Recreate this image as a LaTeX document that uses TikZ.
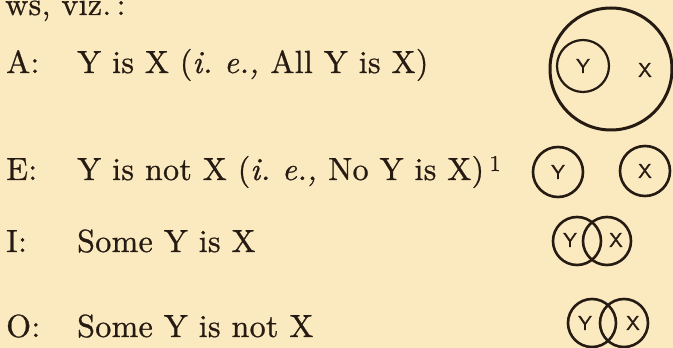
\documentclass[tikz,border=0pt]{standalone}
\usepackage{fontspec}
\setmainfont{lmroman10-regular.otf}[
  ItalicFont=lmroman10-italic.otf, FakeBold=0.8, LetterSpace=1]
\setsansfont{lmsans10-regular.otf}[FakeBold=1.2]
\usepackage{xcolor}
\usepackage{tikz}
\usetikzlibrary{
  calc,
  positioning
}
\definecolor{paper}{RGB}{251,234,192}
\definecolor{ink}{RGB}{38,27,18}

\begin{document}
\begin{tikzpicture}[
  x=1pt, y=1pt,
  font=\fontsize{32}{38}\selectfont,
  txt/.style={anchor=base west, inner sep=0pt, text=ink},
  ring/.style={circle, draw=ink, line width=2.6pt, inner sep=0pt,
               minimum size=#1},
  tag/.style={font=\sffamily\fontsize{20}{20}\selectfont, text=ink,
              inner sep=0pt},
]
  \fill[paper] (0,0) rectangle (673,348);
  \clip (0,0) rectangle (673,348);

  % lead-in line, cut at the top
  \node[txt] (viz) at (5,333) {ws, viz.\,:};

  % A
  \node[txt] (Alet) at (6,275) {A:};
  \node[txt] (Atxt) at (77,275) {Y is X (\textit{i.\ e.,} All Y is X)};
  \node[ring=122pt, line width=3pt] (AX) at (611,279) {};
  \node[ring=52pt, line width=2.2pt] (AY) at (583,282) {};
  \node[tag] at (AY.center) {Y};
  \node[tag] at ($(AX.center)+(34,-1)$) {X};

  % E
  \node[txt] (Elet) at (6,168) {E:};
  \node[txt] (Etxt) at (77,168)
    {Y is not X (\textit{i.\ e.,} No Y is X)\,\textsuperscript{1}};
  \node[ring=50pt] (EY) at (558,176) {};
  \node[ring=50pt] (EX) at (645,177) {};
  \node[tag] at (EY.center) {Y};
  \node[tag] at (EX.center) {X};

  % I
  \node[txt] (Ilet) at (6,96) {I:};
  \node[txt] (Itxt) at (77,96) {Some Y is X};
  \node[ring=48pt] (IY) at (577,107) {};
  \node[ring=48pt] (IX) at (607,107) {};
  \node[tag] at ($(IY.center)+(-7,1)$) {Y};
  \node[tag] at ($(IX.center)+(9,1)$) {X};

  % O
  \node[txt] (Olet) at (6,11) {O:};
  \node[txt] (Otxt) at (77,11) {Some Y is not X};
  \node[ring=48pt] (OY) at (592,25) {};
  \node[ring=48pt] (OX) at (624,25) {};
  \node[tag] at ($(OY.center)+(-7,0)$) {Y};
  \node[tag] at ($(OX.center)+(9,0)$) {X};
\end{tikzpicture}
\end{document}
